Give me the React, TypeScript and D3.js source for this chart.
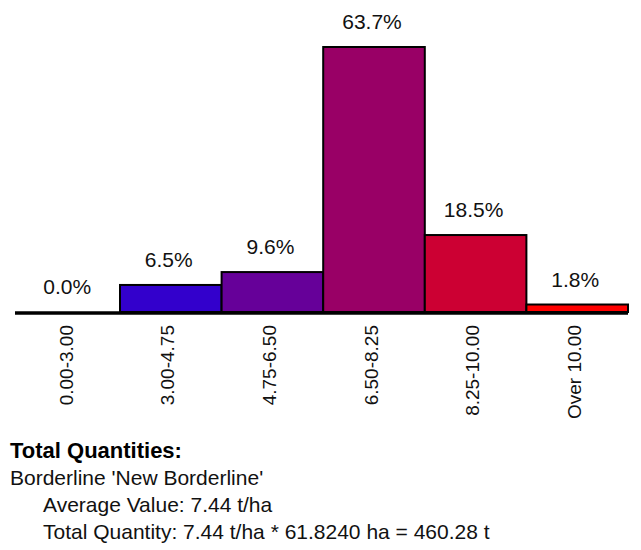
import React from "react";
import * as d3 from "d3";

const categories = ["0.00-3.00", "3.00-4.75", "4.75-6.50", "6.50-8.25", "8.25-10.00", "Over 10.00"];
const values = [0.0, 6.5, 9.6, 63.7, 18.5, 1.8];
const colors = ["#0000FF", "#3300CC", "#660099", "#990066", "#CC0033", "#FF0000"];
const summaryTitle = "Total Quantities:";
const summaryLines = [
  "Borderline 'New Borderline'",
  "Average Value: 7.44 t/ha",
  "Total Quantity: 7.44 t/ha * 61.8240 ha = 460.28 t",
];

const W = 641;
const H = 550;
const FONT = "Arial, 'Liberation Sans', sans-serif";

export default function App() {
  const x = d3.scaleBand<string>().domain(categories).range([18.4, 628]).padding(0);
  const y = d3.scaleLinear().domain([0, 63.7]).range([312, 47]);
  const bw = x.bandwidth();
  const base = y(0);

  return (
    <svg
      width={W}
      height={H}
      style={{ position: "absolute", left: 0, top: 0, display: "block", background: "#fff" }}
      fontFamily={FONT}
    >
      {categories.map((c, i) => (
        <rect
          key={c}
          x={x(c)}
          y={y(values[i])}
          width={bw}
          height={base - y(values[i])}
          fill={colors[i]}
          stroke="#000"
          strokeWidth={2}
        />
      ))}
      <line x1={15} x2={628} y1={base + 1} y2={base + 1} stroke="#000" strokeWidth={3.5} />
      {categories.map((c, i) => (
        <text
          key={"v" + c}
          x={(x(c) as number) + bw / 2 - 2}
          y={y(values[i]) - 18}
          textAnchor="middle"
          fontSize={21}
          fill="#111"
        >
          {values[i].toFixed(1) + "%"}
        </text>
      ))}
      {categories.map((c) => (
        <text
          key={"l" + c}
          transform={`translate(${(x(c) as number) + bw / 2 - 3},${base + 13}) rotate(-90)`}
          textAnchor="end"
          dy="0.35em"
          fontSize={19}
          fill="#111"
        >
          {c}
        </text>
      ))}
      <text x={10} y={458} fontSize={22} fontWeight="bold" fill="#000">
        {summaryTitle}
      </text>
      {summaryLines.map((t, i) => (
        <text key={t} x={i === 0 ? 10 : 43} y={485 + i * 27} fontSize={21} fill="#111">
          {t}
        </text>
      ))}
    </svg>
  );
}
